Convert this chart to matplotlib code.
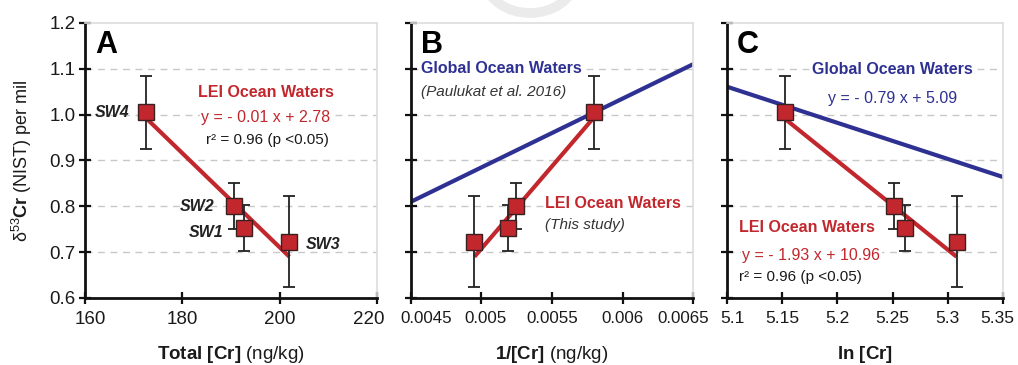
import matplotlib.pyplot as plt
import numpy as np
from matplotlib.transforms import ScaledTranslation, blended_transform_factory
from matplotlib.patches import Arc

plt.rcParams['font.family'] = ['Liberation Sans', 'DejaVu Sans']
plt.rcParams['mathtext.fontset'] = 'custom'
plt.rcParams['mathtext.rm'] = 'Liberation Sans'
plt.rcParams['mathtext.it'] = 'Liberation Sans:italic'
plt.rcParams['mathtext.bf'] = 'Liberation Sans:bold'

# --- data ---
samples = ['SW1', 'SW2', 'SW3', 'SW4']
total_cr = [192.7, 190.7, 202.0, 172.5]          # ng/kg
inv_cr = [0.00519, 0.005244, 0.00495, 0.0058]     # 1/[Cr]
ln_cr = [5.261, 5.251, 5.308, 5.153]              # ln [Cr]
d53cr = [0.753, 0.800, 0.723, 1.005]
d53cr_err = [0.050, 0.050, 0.100, 0.080]

# fitted lines (end points)
lei_fit_a_x = [172.5, 202.0]
lei_fit_a_y = [0.993, 0.690]
lei_fit_b_x = [0.00495, 0.0058]
lei_fit_b_y = [0.690, 0.995]
lei_fit_c_x = [5.153, 5.308]
lei_fit_c_y = [0.990, 0.690]
glob_fit_b_x = [0.0045, 0.0065]
glob_fit_b_y = [0.810, 1.110]
glob_fit_c_x = [5.10, 5.35]
glob_fit_c_y = [1.061, 0.864]

RED = '#c1272d'
BLUE = '#2e3192'
GRID = '#c8c8c8'
TXT = '#1a1a1a'
WHITE_BOX = dict(facecolor='white', edgecolor='none', pad=1)

fig = plt.figure(figsize=(10.18, 3.65), dpi=100)
axA = fig.add_axes([0.0835, 0.1836, 0.2868, 0.7534])
axB = fig.add_axes([0.4037, 0.1836, 0.2771, 0.7534])
axC = fig.add_axes([0.7141, 0.1836, 0.2711, 0.7534])

# faint watermark arc at the top of the figure
fig.patches.append(Arc((530 / 1018, 1 + 22 / 365), 90 / 1018, 70 / 365, theta1=195, theta2=345,
                       transform=fig.transFigure, color='#ebebeb', lw=7))


def style_axis(ax, xlim, xticks, xticklabels, shifts, tick_fs):
    ax.set_xlim(*xlim)
    ax.set_ylim(0.6, 1.2)
    ax.set_yticks(np.arange(0.6, 1.21, 0.1))
    ax.set_xticks(xticks)
    ax.set_xticklabels([])
    # tick labels drawn by hand so the end labels can be nudged inwards like the original
    base = blended_transform_factory(ax.transData, ax.transAxes)
    for v, s, dx in zip(xticks, xticklabels, shifts):
        tr = base + ScaledTranslation(dx / 100, -0.13, fig.dpi_scale_trans)
        ax.text(v, 0, s, transform=tr, fontsize=tick_fs, color=TXT, ha='center', va='top', clip_on=False)
    for y in [0.7, 0.8, 0.9, 1.0, 1.1]:
        ax.axhline(y, color=GRID, lw=1, ls=(0, (5, 4)), zorder=0)
    for s in ['top', 'right']:
        ax.spines[s].set_color('#dddddd')
        ax.spines[s].set_linewidth(1.2)
    for s in ['left', 'bottom']:
        ax.spines[s].set_color('#111111')
        ax.spines[s].set_linewidth(2)
    ax.tick_params(direction='inout', length=8, width=1.6, color='#111111', pad=3)


def draw_points(ax, xs):
    ax.errorbar(xs, d53cr, yerr=d53cr_err, fmt='none', ecolor='#222222',
                elinewidth=1.3, capsize=4, capthick=1.3, zorder=3)
    ax.plot(xs, d53cr, 's', ms=11.5, mfc=RED, mec='#3a2020', mew=1.0, zorder=4)


def note(ax, x, y, s, color=TXT, ha='left', **kw):
    ax.text(x, y, s, transform=ax.transAxes, color=color, ha=ha, va='center',
            bbox=WHITE_BOX, zorder=1, **kw)


# --- panel A ---
style_axis(axA, (160, 220), [160, 180, 200, 220], ['160', '180', '200', '220'], [5, 0, 0, -8], 13.5)
axA.set_yticklabels(['0.6', '0.7', '0.8', '0.9', '1.0', '1.1', '1.2'], fontsize=13.5, color=TXT)
axA.plot(lei_fit_a_x, lei_fit_a_y, color=RED, lw=3, solid_capstyle='butt', zorder=2)
draw_points(axA, total_cr)
axA.text(0.035, 0.975, 'A', transform=axA.transAxes, fontsize=22, fontweight='bold', va='top')
label_off = {'SW1': (-4.2, -0.01), 'SW2': (-4.2, 0.0), 'SW3': (3.3, -0.007), 'SW4': (-3.4, 0.0)}
for name, x, y in zip(samples, total_cr, d53cr):
    dx, dy = label_off[name]
    ha = 'left' if dx > 0 else 'right'
    axA.text(x + dx, y + dy, name, fontsize=11.5, fontweight='bold', style='italic',
             color='#222222', ha=ha, va='center')
note(axA, 0.62, 0.749, 'LEI Ocean Waters', color=RED, ha='center', fontsize=11.5, fontweight='bold')
note(axA, 0.62, 0.655, 'y = - 0.01 x + 2.78', color=RED, ha='center', fontsize=11.5)
note(axA, 0.625, 0.575, 'r² = 0.96 (p <0.05)', ha='center', fontsize=11)
axA.set_ylabel('δ$^{53}$$\\mathbf{Cr}$ (NIST) per mil', fontsize=13, color=TXT, labelpad=11)
axA.set_xlabel(r'$\mathbf{Total\ [Cr]}$ (ng/kg)', fontsize=13.5, color=TXT, labelpad=26)

# --- panel B ---
style_axis(axB, (0.0045, 0.0065), [0.0045, 0.005, 0.0055, 0.006, 0.0065],
           ['0.0045', '0.005', '0.0055', '0.006', '0.0065'], [15, 4, 0, 0, -10], 12.2)
axB.set_yticklabels([])
axB.plot(glob_fit_b_x, glob_fit_b_y, color=BLUE, lw=3, zorder=2)
axB.plot(lei_fit_b_x, lei_fit_b_y, color=RED, lw=3, solid_capstyle='butt', zorder=2)
draw_points(axB, inv_cr)
axB.text(0.035, 0.975, 'B', transform=axB.transAxes, fontsize=22, fontweight='bold', va='top')
note(axB, 0.035, 0.836, 'Global Ocean Waters', color=BLUE, fontsize=11.5, fontweight='bold')
note(axB, 0.035, 0.749, '(Paulukat et al. 2016)', color='#333333', fontsize=11, style='italic')
note(axB, 0.475, 0.342, 'LEI Ocean Waters', color=RED, fontsize=11.5, fontweight='bold')
note(axB, 0.475, 0.265, '(This study)', color='#333333', fontsize=11, style='italic')
axB.set_xlabel(r'$\mathbf{1/[Cr]}$ (ng/kg)', fontsize=13.5, color=TXT, labelpad=26)

# --- panel C ---
style_axis(axC, (5.10, 5.35), [5.10, 5.15, 5.20, 5.25, 5.30, 5.35],
           ['5.1', '5.15', '5.2', '5.25', '5.3', '5.35'], [6, 0, 0, 0, 0, -6], 12.5)
axC.set_yticklabels([])
axC.plot(glob_fit_c_x, glob_fit_c_y, color=BLUE, lw=3, zorder=2)
axC.plot(lei_fit_c_x, lei_fit_c_y, color=RED, lw=3, solid_capstyle='butt', zorder=2)
draw_points(axC, ln_cr)
axC.text(0.035, 0.975, 'C', transform=axC.transAxes, fontsize=22, fontweight='bold', va='top')
note(axC, 0.60, 0.83, 'Global Ocean Waters', color=BLUE, ha='center', fontsize=11.5, fontweight='bold')
note(axC, 0.60, 0.727, 'y = - 0.79 x + 5.09', color=BLUE, ha='center', fontsize=11.5)
note(axC, 0.045, 0.255, 'LEI Ocean Waters', color=RED, fontsize=11.5, fontweight='bold')
note(axC, 0.055, 0.156, 'y = - 1.93 x + 10.96', color=RED, fontsize=11.5)
note(axC, 0.045, 0.076, 'r² = 0.96 (p <0.05)', fontsize=11)
axC.set_xlabel(r'$\mathbf{ln\ [Cr]}$', fontsize=13.5, color=TXT, labelpad=26)

plt.savefig('out.png', dpi=100)
